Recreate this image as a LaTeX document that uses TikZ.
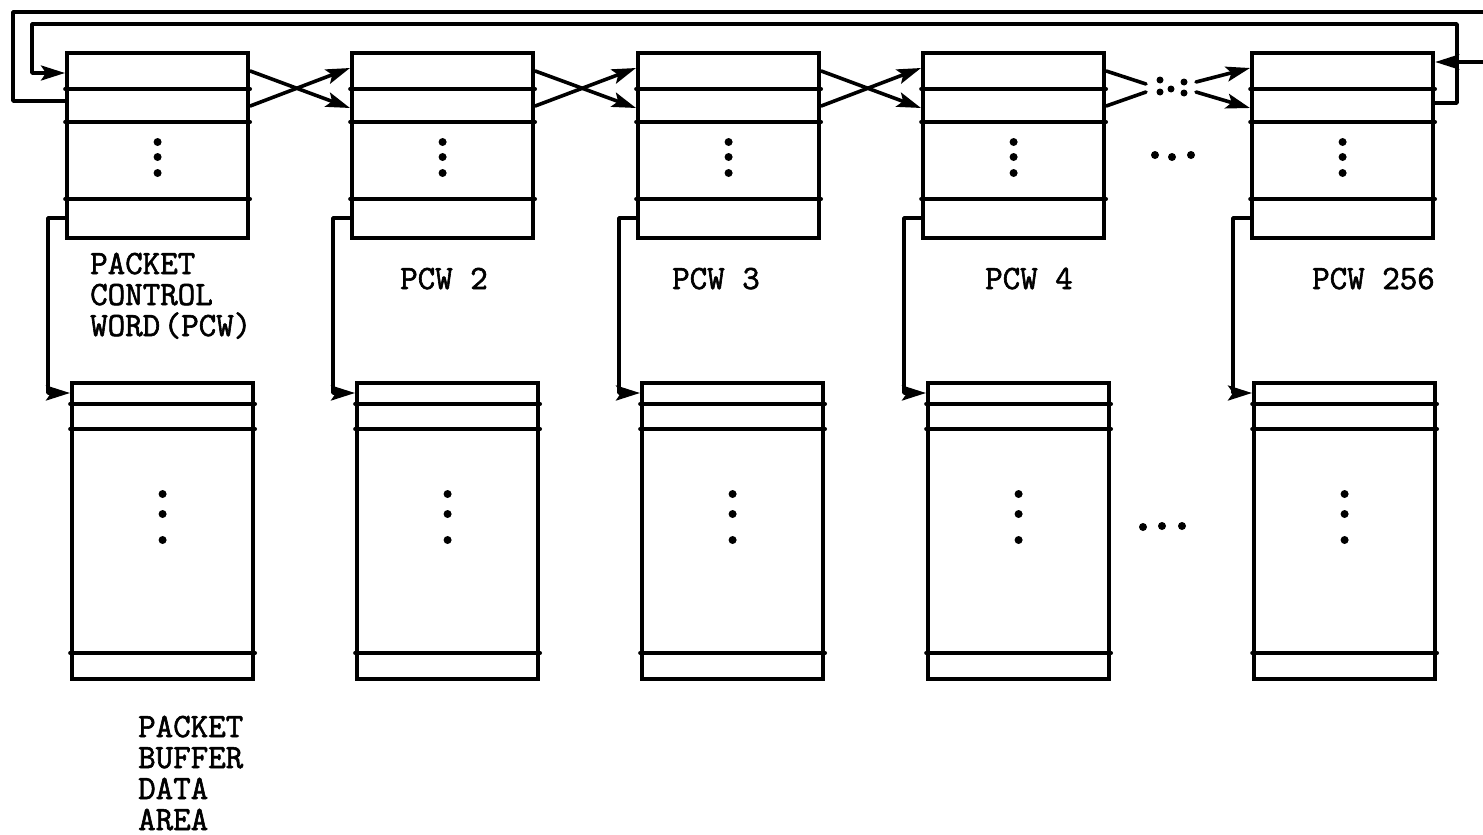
\documentclass[tikz,border=0pt]{standalone}
\usepackage{fontspec}
\newfontfamily\twfont{Latin Modern Mono}[FakeBold=1.8]
\usetikzlibrary{arrows.meta,calc}
\tikzset{
  ln/.style={line width=3.6pt, line cap=round, line join=round},
  pcwbox/.style={draw, line width=4.2pt, rectangle, anchor=north west, minimum width=181pt, minimum height=185pt, inner sep=0pt},
  bufbox/.style={draw, line width=4.2pt, rectangle, anchor=north west, minimum width=181pt, minimum height=296pt, inner sep=0pt},
  arr/.style={ln, -{Stealth[length=24pt,width=15pt,inset=5pt]}},
  lbl/.style={font=\twfont\fontsize{34}{31}\selectfont, anchor=base west, inner sep=0pt},
  dotmark/.style={fill, circle, inner sep=0pt, minimum size=8pt}
}
\begin{document}
\begin{tikzpicture}[x=1pt,y=-1pt]
\useasboundingbox (0,0) rectangle (1483,835);
\clip (0,0) rectangle (1483,835);
% PCW boxes
\foreach \i/\x in {1/65,2/350,3/636,4/921,5/1250}{
  \node[pcwbox] (p\i) at (\x,51) {};
  \draw[ln] ([yshift=-38pt]p\i.north west) -- ([yshift=-38pt]p\i.north east);
  \draw[ln] ([yshift=-71pt]p\i.north west) -- ([yshift=-71pt]p\i.north east);
  \draw[ln] ([yshift=-148pt]p\i.north west) -- ([yshift=-148pt]p\i.north east);
  \node[dotmark] (pd\i a) at ([yshift=-91pt]p\i.north) {};
  \node[dotmark] (pd\i b) at ([yshift=-106pt]p\i.north) {};
  \node[dotmark] (pd\i c) at ([yshift=-122pt]p\i.north) {};
}
% buffer boxes
\foreach \i/\x in {1/70,2/355,3/640,4/926,5/1252}{
  \node[bufbox] (b\i) at (\x,381) {};
  \draw[ln] ([yshift=-23pt]b\i.north west) -- ([yshift=-23pt]b\i.north east);
  \draw[ln] ([yshift=-48pt]b\i.north west) -- ([yshift=-48pt]b\i.north east);
  \draw[ln] ([yshift=-272pt]b\i.north west) -- ([yshift=-272pt]b\i.north east);
  \node[dotmark] (bd\i a) at ([yshift=-113pt]b\i.north) {};
  \node[dotmark] (bd\i b) at ([yshift=-133pt]b\i.north) {};
  \node[dotmark] (bd\i c) at ([yshift=-159pt]b\i.north) {};
  % link from PCW to its buffer
  \draw[arr] ([yshift=-167pt]p\i.north west) -- ++(-17,0) |- ([yshift=-12pt]b\i.north west);
}
% crossing links between consecutive PCWs
\foreach \i/\j in {1/2,2/3,3/4}{
  \draw[arr] ([yshift=-20pt]p\i.north east) -- ([yshift=-57pt]p\j.north west);
  \draw[arr] ([yshift=-55pt]p\i.north east) -- ([yshift=-17pt]p\j.north west);
}
% broken links PCW4 -> PCW256
\coordinate (g1) at (1146,84);
\coordinate (g2) at (1146,92);
\coordinate (g3) at (1196,82);
\coordinate (g4) at (1196,92);
\draw[ln] ([yshift=-20pt]p4.north east) -- (g1);
\draw[ln] ([yshift=-55pt]p4.north east) -- (g2);
\draw[arr] (g3) -- ([yshift=-17pt]p5.north west);
\draw[arr] (g4) -- ([yshift=-57pt]p5.north west);
\foreach \n/\x/\y in {ga/1160/80,gb/1160/92,gc/1171/89,gd/1184/82,ge/1184/93}{
  \node[dotmark, minimum size=7pt] (\n) at (\x,\y) {};
}
% ellipses between columns
\foreach \n/\x/\y in {ea/1155/155,eb/1172/157,ec/1191/155,fa/1143/527,fb/1162/526,fc/1182/526}{
  \node[dotmark] (\n) at (\x,\y) {};
}
% feedback loops
\coordinate (o1) at (13,12);
\coordinate (o2) at (1500,12);
\draw[arr] ([yshift=-50pt]p1.north west) -| (o1) -- (o2) |- ([yshift=-11pt]p5.north east);
\coordinate (i1) at (1457,24);
\coordinate (i2) at (32,73);
\draw[arr] ([yshift=-52pt]p5.north east) -| (i1) -| (i2) -- ([yshift=-22pt]p1.north west);
% labels
\node[lbl] (t1) at (90,274) {PACKET};
\node[lbl] (t2) at (90,305) {CONTROL};
\node[lbl] (t3) at (90,336) {WORD\kern-14pt\ (PCW)};
\node[lbl] (t4) at (400,289) {PCW 2};
\node[lbl] (t5) at (672,289) {PCW 3};
\node[lbl] (t6) at (985,289) {PCW 4};
\node[lbl] (t7) at (1312,289) {PCW 256};
\node[lbl] (u1) at (138,737) {PACKET};
\node[lbl] (u2) at (138,768) {BUFFER};
\node[lbl] (u3) at (138,799) {DATA};
\node[lbl] (u4) at (138,830) {AREA};
\end{tikzpicture}
\end{document}
